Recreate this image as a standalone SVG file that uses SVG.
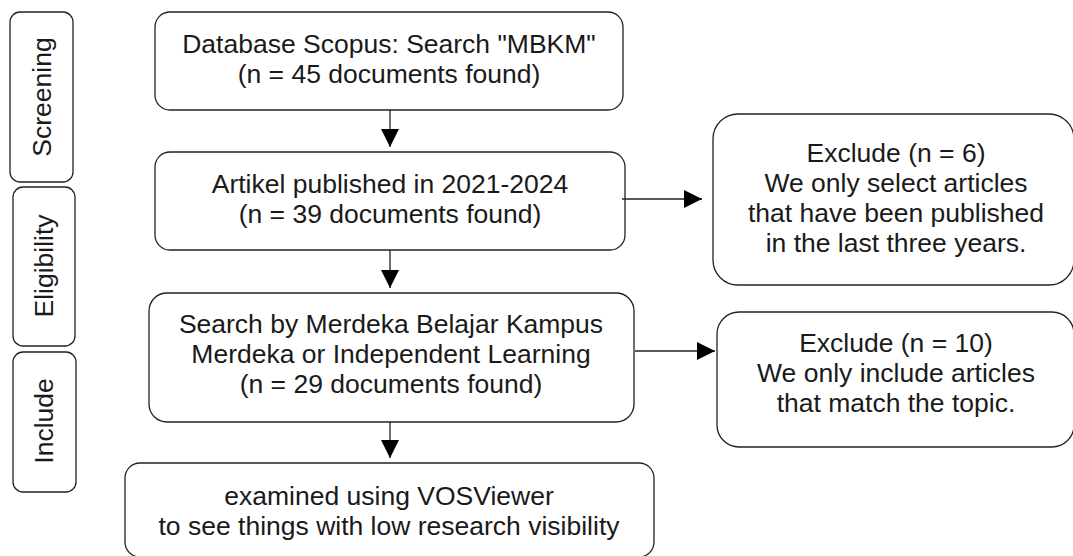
<svg xmlns="http://www.w3.org/2000/svg" width="1073" height="556" viewBox="0 0 1073 556">
  <style>
    .box { fill: #ffffff; stroke: #222222; stroke-width: 1.3; }
    .txt { font-family: "Liberation Sans", Arial, sans-serif; font-size: 26.5px; fill: #1a1a1a; text-anchor: middle; }
    .link { stroke: #222222; stroke-width: 1.3; fill: none; }
  </style>
  <defs>
    <marker id="arrow" viewBox="0 0 18 18" markerWidth="18" markerHeight="18" refX="18" refY="9" orient="auto" markerUnits="userSpaceOnUse">
      <path d="M0,0 L18,9 L0,18 Z" fill="#000000"/>
    </marker>
  </defs>
  <rect width="1073" height="556" fill="#ffffff"/>

  <!-- phase tabs -->
  <g id="tab-screening">
    <rect class="box" x="10" y="12" width="63" height="170" rx="10"/>
    <text class="txt" transform="translate(51,97) rotate(-90)">Screening</text>
  </g>
  <g id="tab-eligibility">
    <rect class="box" x="13" y="187" width="62" height="159" rx="10"/>
    <text class="txt" transform="translate(53,266) rotate(-90)">Eligibility</text>
  </g>
  <g id="tab-include">
    <rect class="box" x="13" y="352" width="63" height="140" rx="10"/>
    <text class="txt" transform="translate(53,421) rotate(-90)">Include</text>
  </g>

  <!-- main flow -->
  <g id="node-search">
    <rect class="box" x="155" y="12" width="468" height="98" rx="15"/>
    <text class="txt" x="389" y="53">Database Scopus: Search "MBKM"</text>
    <text class="txt" x="389" y="83">(n = 45 documents found)</text>
  </g>
  <g id="node-year">
    <rect class="box" x="155" y="152" width="470" height="98" rx="15"/>
    <text class="txt" x="390" y="193">Artikel published in 2021-2024</text>
    <text class="txt" x="390" y="223">(n = 39 documents found)</text>
  </g>
  <g id="node-topic">
    <rect class="box" x="149" y="293" width="485" height="129" rx="18"/>
    <text class="txt" x="391" y="333">Search by Merdeka Belajar Kampus</text>
    <text class="txt" x="391" y="363">Merdeka or Independent Learning</text>
    <text class="txt" x="391" y="393">(n = 29 documents found)</text>
  </g>
  <g id="node-vosviewer">
    <rect class="box" x="125" y="463" width="529" height="94" rx="15"/>
    <text class="txt" x="389" y="505">examined using VOSViewer</text>
    <text class="txt" x="389" y="535">to see things with low research visibility</text>
  </g>

  <!-- exclusions -->
  <g id="node-exclude-year">
    <rect class="box" x="713" y="114" width="361" height="171" rx="25"/>
    <text class="txt" x="896" y="162">Exclude (n = 6)</text>
    <text class="txt" x="896" y="192">We only select articles</text>
    <text class="txt" x="896" y="222">that have been published</text>
    <text class="txt" x="896" y="252">in the last three years.</text>
  </g>
  <g id="node-exclude-topic">
    <rect class="box" x="717" y="312" width="357" height="135" rx="22"/>
    <text class="txt" x="896" y="352">Exclude (n = 10)</text>
    <text class="txt" x="896" y="382">We only include articles</text>
    <text class="txt" x="896" y="412">that match the topic.</text>
  </g>

  <!-- connectors -->
  <g id="connectors">
    <line class="link" x1="390" y1="110" x2="390" y2="147" marker-end="url(#arrow)"/>
    <line class="link" x1="390" y1="250" x2="390" y2="288" marker-end="url(#arrow)"/>
    <line class="link" x1="390" y1="422" x2="390" y2="458" marker-end="url(#arrow)"/>
    <line class="link" x1="622" y1="199" x2="702" y2="199" marker-end="url(#arrow)"/>
    <line class="link" x1="635" y1="351" x2="715" y2="351" marker-end="url(#arrow)"/>
  </g>
</svg>
